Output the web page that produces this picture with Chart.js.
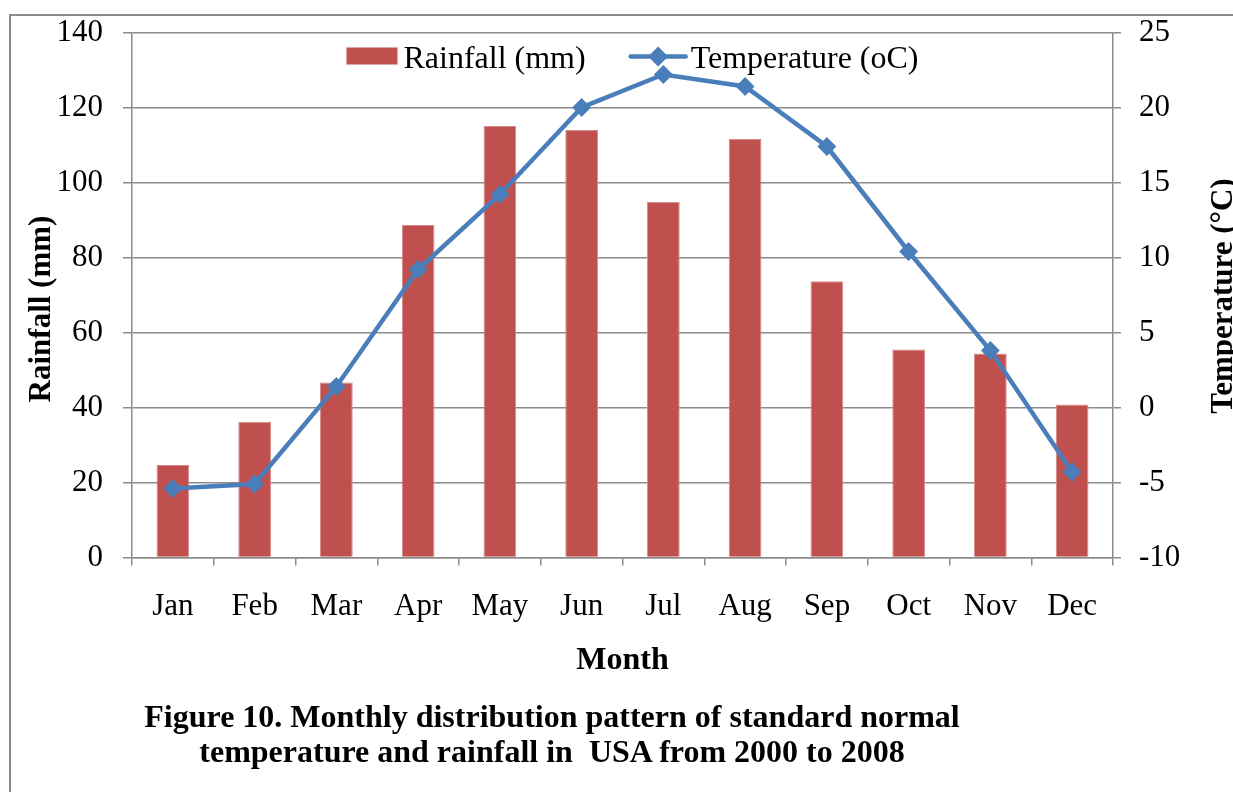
<!DOCTYPE html>
<html>
<head>
    <title>Monthly temperature and rainfall, USA 2000-2008</title>
    <script src="https://cdn.jsdelivr.net/npm/chart.js"></script>
    <style>
        body {
            margin: 0;
            background: #fff;
        }
        .page {
            position: relative;
            width: 1233px;
            height: 792px;
            overflow: hidden;
        }
        .frame {
            position: absolute;
            left: 9px;
            top: 14px;
            right: -10px;
            bottom: -10px;
            border-left: 2px solid #8c8c8c;
            border-top: 2px solid #8c8c8c;
        }
        canvas {
            position: absolute;
            left: 0;
            top: 0;
        }
        .caption {
            position: absolute;
            left: 52px;
            width: 1000px;
            top: 699px;
            text-align: center;
            white-space: nowrap;
            font: bold 32px "Liberation Serif", "Times New Roman", serif;
            line-height: 35px;
            color: #000;
        }
    </style>
</head>
<body>
    <div class="page">
        <div class="frame"></div>
        <canvas id="climate" width="1233" height="792"></canvas>
        <div class="caption">Figure 10. Monthly distribution pattern of standard normal<br>temperature and rainfall in&nbsp; USA from 2000 to 2008</div>
    </div>

    <script>
        const months = ['Jan', 'Feb', 'Mar', 'Apr', 'May', 'Jun', 'Jul', 'Aug', 'Sep', 'Oct', 'Nov', 'Dec'];
        const rainfall = [24.7, 36.2, 46.7, 88.7, 115.1, 114.0, 94.8, 111.7, 73.7, 55.5, 54.4, 40.8];
        const temperature = [-5.4, -5.1, 1.4, 9.2, 14.2, 20.0, 22.2, 21.4, 17.4, 10.4, 3.8, -4.3];

        const serif = '"Liberation Serif", "Times New Roman", serif';
        const gridGray = '#8c8c8c';
        const barRed = '#c0504d';
        const lineBlue = '#4a7ebb';

        // legend sits inside the plot, Excel style: bar swatch, then line with a diamond
        const insideLegend = {
            id: 'insideLegend',
            afterDraw(chart) {
                const { ctx, chartArea } = chart;
                const sets = chart.data.datasets;
                ctx.save();
                ctx.font = '32px ' + serif;
                ctx.fillStyle = '#000';
                ctx.textBaseline = 'alphabetic';
                const w0 = ctx.measureText(sets[0].label).width;
                const w1 = ctx.measureText(sets[1].label).width;
                const total = 51 + 6 + w0 + 45 + 55 + 5 + w1;
                let x = (chartArea.left + chartArea.right) / 2 + 10 - total / 2;
                const cy = chartArea.top + 24;

                ctx.fillStyle = barRed;
                ctx.fillRect(x, cy - 9, 51, 17);
                x += 51 + 6;
                ctx.fillStyle = '#000';
                ctx.fillText(sets[0].label, x, cy + 11);
                x += w0 + 45;

                ctx.strokeStyle = lineBlue;
                ctx.lineWidth = 4.5;
                ctx.lineCap = 'round';
                ctx.beginPath();
                ctx.moveTo(x, cy);
                ctx.lineTo(x + 55, cy);
                ctx.stroke();
                ctx.fillStyle = lineBlue;
                ctx.beginPath();
                ctx.moveTo(x + 27.5 - 10, cy);
                ctx.lineTo(x + 27.5, cy - 10);
                ctx.lineTo(x + 27.5 + 10, cy);
                ctx.lineTo(x + 27.5, cy + 10);
                ctx.closePath();
                ctx.fill();
                x += 55 + 5;
                ctx.fillStyle = '#000';
                ctx.fillText(sets[1].label, x, cy + 11);
                ctx.restore();
            }
        };

        // both vertical titles read bottom-to-top, so they are drawn here
        const axisTitles = {
            id: 'axisTitles',
            afterDraw(chart) {
                const { ctx, chartArea } = chart;
                const mid = (chartArea.top + chartArea.bottom) / 2;
                ctx.save();
                ctx.font = 'bold 31px ' + serif;
                ctx.fillStyle = '#000';
                ctx.textAlign = 'center';
                ctx.textBaseline = 'alphabetic';

                ctx.save();
                ctx.translate(chartArea.left - 82, mid + 14);
                ctx.rotate(-Math.PI / 2);
                ctx.fillText('Rainfall (mm)', 0, 0);
                ctx.restore();

                ctx.save();
                ctx.translate(chartArea.right + 119, mid + 1);
                ctx.rotate(-Math.PI / 2);
                ctx.fillText('Temperature (\u00B0C)', 0, 0);
                ctx.restore();

                ctx.restore();
            }
        };

        const ctx = document.getElementById('climate').getContext('2d');
        new Chart(ctx, {
            data: {
                labels: months,
                datasets: [{
                    type: 'bar',
                    label: 'Rainfall (mm)',
                    data: rainfall,
                    backgroundColor: barRed,
                    borderColor: '#d68a88',
                    borderWidth: 1,
                    categoryPercentage: 0.4,
                    barPercentage: 1,
                    yAxisID: 'y',
                    order: 1
                }, {
                    type: 'line',
                    label: 'Temperature (oC)',
                    data: temperature,
                    borderColor: lineBlue,
                    backgroundColor: lineBlue,
                    borderWidth: 4.5,
                    pointStyle: 'rectRot',
                    pointRadius: 8,
                    pointBorderWidth: 2,
                    pointBackgroundColor: lineBlue,
                    pointBorderColor: lineBlue,
                    tension: 0,
                    yAxisID: 'y1',
                    order: 0
                }]
            },
            options: {
                responsive: false,
                animation: false,
                layout: {
                    padding: { top: 32.5, left: 0, right: 0, bottom: 112.5 }
                },
                plugins: {
                    legend: { display: false },
                    tooltip: { enabled: false }
                },
                scales: {
                    x: {
                        offset: true,
                        grid: {
                            offset: true,
                            drawOnChartArea: false,
                            drawTicks: true,
                            tickLength: 8,
                            color: gridGray,
                            lineWidth: 1.5
                        },
                        border: { color: gridGray, width: 1.5 },
                        ticks: {
                            color: '#000',
                            font: { family: serif, size: 31 },
                            padding: 23,
                            maxRotation: 0
                        },
                        title: {
                            display: true,
                            text: 'Month',
                            color: '#000',
                            font: { family: serif, size: 32, weight: 'bold' },
                            padding: 0
                        },
                        afterFit(scale) { scale.height = 122; }
                    },
                    y: {
                        position: 'left',
                        min: 0,
                        max: 140,
                        ticks: {
                            stepSize: 20,
                            color: '#000',
                            font: { family: serif, size: 31 },
                            padding: 20
                        },
                        grid: {
                            color: gridGray,
                            lineWidth: 1.5,
                            tickLength: 9
                        },
                        border: { color: gridGray, width: 1.5 },
                        afterFit(scale) {
                            scale.width = 132;
                            scale.paddingTop = 0;
                            scale.paddingBottom = 0;
                        }
                    },
                    y1: {
                        position: 'right',
                        min: -10,
                        max: 25,
                        ticks: {
                            stepSize: 5,
                            color: '#000',
                            font: { family: serif, size: 31 },
                            padding: 18
                        },
                        grid: {
                            drawOnChartArea: false,
                            color: gridGray,
                            lineWidth: 1.5,
                            tickLength: 8
                        },
                        border: { color: gridGray, width: 1.5 },
                        afterFit(scale) {
                            scale.width = 120;
                            scale.paddingTop = 0;
                            scale.paddingBottom = 0;
                        }
                    }
                }
            },
            plugins: [insideLegend, axisTitles]
        });
    </script>
</body>
</html>
